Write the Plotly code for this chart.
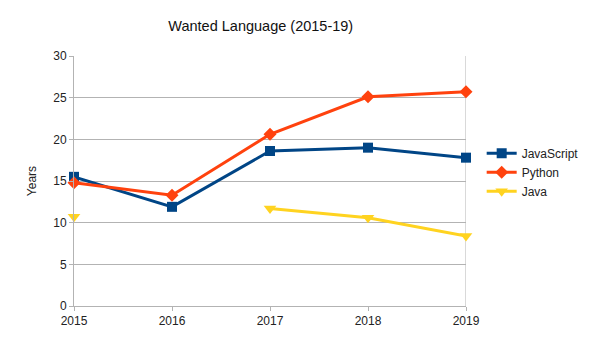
import plotly.graph_objects as go

years = [2015, 2016, 2017, 2018, 2019]
javascript = [15.5, 11.9, 18.6, 19.0, 17.8]
python = [14.8, 13.3, 20.6, 25.1, 25.7]
java = [10.7, None, 11.7, 10.6, 8.4]
y_ticks = [0, 5, 10, 15, 20, 25, 30]

fig = go.Figure()
fig.add_trace(go.Scatter(x=years, y=javascript, name="JavaScript", mode="lines+markers",
                         line=dict(color="#004586", width=3),
                         marker=dict(symbol="square", size=10, color="#004586"),
                         cliponaxis=False))
fig.add_trace(go.Scatter(x=years, y=python, name="Python", mode="lines+markers",
                         line=dict(color="#ff420e", width=3),
                         marker=dict(symbol="diamond", size=10, color="#ff420e"),
                         cliponaxis=False))
fig.add_trace(go.Scatter(x=years, y=java, name="Java", mode="lines+markers",
                         line=dict(color="#ffd320", width=3),
                         marker=dict(symbol="triangle-down", size=11, color="#ffd320"),
                         cliponaxis=False))

fig.update_layout(
    width=605, height=340,
    margin=dict(l=74, r=139, t=56, b=31),
    paper_bgcolor="white", plot_bgcolor="white",
    font=dict(family="Liberation Sans, Arial, sans-serif", size=12, color="#222"),
    title=dict(text="Wanted Language (2015-19)", x=0.431, xanchor="center",
               y=0.925, yanchor="middle", font=dict(size=14.5, color="#111")),
    legend=dict(x=1.04, xanchor="left", y=0.535, yanchor="middle",
                font=dict(size=12), tracegroupgap=0, itemwidth=30),
    xaxis=dict(range=[2015, 2019], tickvals=years, ticktext=[str(y) for y in years],
               showgrid=False, showline=True, linecolor="#b3b3b3", mirror=False,
               ticks="outside", ticklen=4, tickcolor="#b3b3b3", zeroline=False),
    yaxis=dict(range=[0, 30], tickvals=y_ticks, showgrid=True, gridcolor="#b3b3b3",
               showline=True, linecolor="#b3b3b3", ticks="outside", ticklen=4,
               tickcolor="#b3b3b3", zeroline=False,
               title=dict(text="Years", standoff=14, font=dict(size=12))),
)
fig.add_shape(type="line", xref="x", yref="paper", x0=2019, x1=2019, y0=0, y1=1,
              line=dict(color="#b3b3b3", width=1), layer="below")

fig.write_html("out.html")
